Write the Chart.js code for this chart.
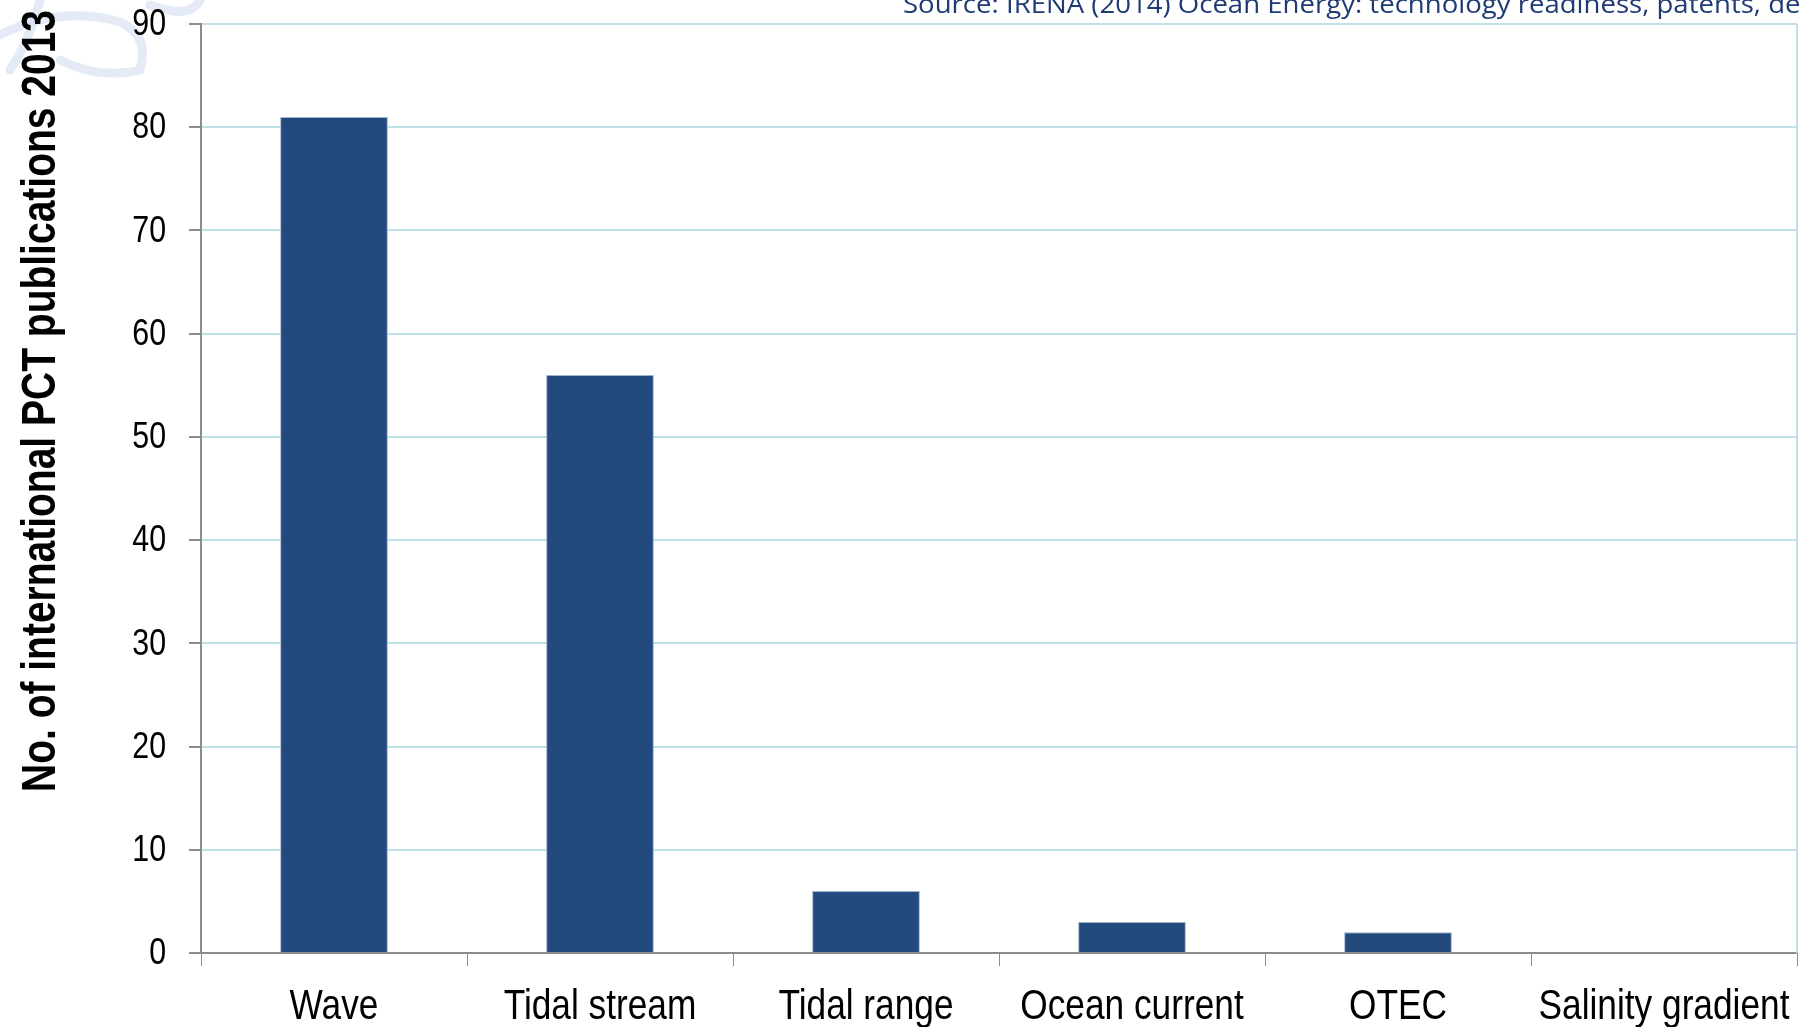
<!DOCTYPE html>
<html>
<head>
<meta charset="utf-8">
<script src="https://cdn.jsdelivr.net/npm/chart.js@4/dist/chart.umd.min.js"></script>
<style>
  html, body { margin: 0; padding: 0; background: #fff; }
  #wrap { width: 1800px; height: 1027px; position: relative; }
</style>
</head>
<body>
<div id="wrap"><canvas id="pctChart" width="1800" height="1027"></canvas></div>
<script>
// data
var categories = ['Wave', 'Tidal stream', 'Tidal range', 'Ocean current', 'OTEC', 'Salinity gradient'];
var publications = [81, 56, 6, 3, 2, 0];
var yTicks = [0, 10, 20, 30, 40, 50, 60, 70, 80, 90];

var yTitle = 'No. of international PCT publications 2013';
var sourceNote = 'Source: IRENA (2014) Ocean Energy: technology readiness, patents, deployment status and outlook';

var arial = '"Liberation Sans", Arial, sans-serif';
var squeeze = 0.82; // fake "Arial Narrow" by squeezing Liberation Sans

function narrowText(c, txt, x, y, font, align, baseline, sx) {
    c.save();
    c.font = font;
    c.textAlign = align;
    c.textBaseline = baseline;
    c.translate(x, y);
    c.scale(sx || squeeze, 1);
    c.fillText(txt, 0, 0);
    c.restore();
}

// faint logo swirl behind the top-left corner
var backdrop = {
    id: 'backdrop',
    beforeDraw: function (chart) {
        var c = chart.ctx;
        c.save();
        c.strokeStyle = 'rgba(205, 218, 238, 0.55)';
        c.lineWidth = 9;
        c.lineCap = 'round';
        c.beginPath();
        c.moveTo(0, 35);
        c.quadraticCurveTo(60, 5, 120, 22);
        c.quadraticCurveTo(150, 35, 140, 70);
        c.quadraticCurveTo(100, 80, 60, 60);
        c.stroke();
        c.beginPath();
        c.moveTo(40, 0);
        c.quadraticCurveTo(30, 40, 10, 70);
        c.stroke();
        c.beginPath();
        c.moveTo(150, 5);
        c.quadraticCurveTo(190, 20, 200, 0);
        c.stroke();
        c.restore();
    }
};

// labels, titles and the right border of the plot area
var extras = {
    id: 'extras',
    afterDraw: function (chart) {
        var c = chart.ctx, a = chart.chartArea;
        var xs = chart.scales.x, ys = chart.scales.y;
        c.save();
        c.fillStyle = '#000';
        // y tick labels
        yTicks.forEach(function (v) {
            narrowText(c, String(v), 166, ys.getPixelForValue(v) + 1, '37px ' + arial, 'right', 'middle');
        });
        // x category labels
        categories.forEach(function (lab, i) {
            narrowText(c, lab, xs.getPixelForValue(i), 1019, '43px ' + arial, 'center', 'alphabetic');
        });
        // right border in gridline colour
        c.strokeStyle = '#bfe2e6';
        c.lineWidth = 2;
        c.beginPath();
        c.moveTo(a.right, a.top);
        c.lineTo(a.right, a.bottom);
        c.stroke();
        // source note, clipped at the top like the original
        c.save();
        c.fillStyle = '#1f3b73';
        c.font = '26px "Open Sans", Lato, sans-serif';
        c.textAlign = 'left';
        c.textBaseline = 'alphabetic';
        c.translate(903, 13);
        c.scale(1.06, 1);
        c.fillText(sourceNote, 0, 0);
        c.restore();
        // rotated y title, fitted to the length it has in the original
        var tFont = 'bold 49px ' + arial;
        c.font = tFont;
        var sx = 782 / c.measureText(yTitle).width;
        c.translate(55, 792);
        c.rotate(-Math.PI / 2);
        narrowText(c, yTitle, 0, 0, tFont, 'left', 'alphabetic', sx);
        c.restore();
    }
};

var ctx = document.getElementById('pctChart').getContext('2d');
var myChart = new Chart(ctx, {
    type: 'bar',
    data: {
        labels: categories,
        datasets: [{
            label: 'PCT publications',
            data: publications,
            backgroundColor: '#224a7c',
            borderColor: '#9fb4cc',
            borderWidth: { top: 1, left: 1, right: 1, bottom: 0 },
            categoryPercentage: 1.0,
            barPercentage: 0.405
        }]
    },
    options: {
        responsive: false,
        animation: false,
        layout: { padding: { top: 24, right: 3, left: 0, bottom: 0 } },
        plugins: {
            legend: { display: false },
            tooltip: { enabled: false }
        },
        scales: {
            x: {
                grid: {
                    drawOnChartArea: false,
                    drawTicks: true,
                    tickLength: 13,
                    tickColor: '#8c8c8c',
                    offset: true
                },
                border: { color: '#8c8c8c', width: 2 },
                ticks: { display: false, autoSkip: false },
                afterFit: function (s) { s.height = 74; }
            },
            y: {
                min: 0,
                max: 90,
                afterBuildTicks: function (s) {
                    s.ticks = yTicks.map(function (v) { return { value: v }; });
                },
                grid: {
                    color: '#bfe2e6',
                    lineWidth: 2,
                    tickLength: 12,
                    tickColor: '#8c8c8c'
                },
                border: { color: '#8c8c8c', width: 2 },
                ticks: { display: false },
                afterFit: function (s) { s.width = 201; }
            }
        }
    },
    plugins: [backdrop, extras]
});
</script>
</body>
</html>
